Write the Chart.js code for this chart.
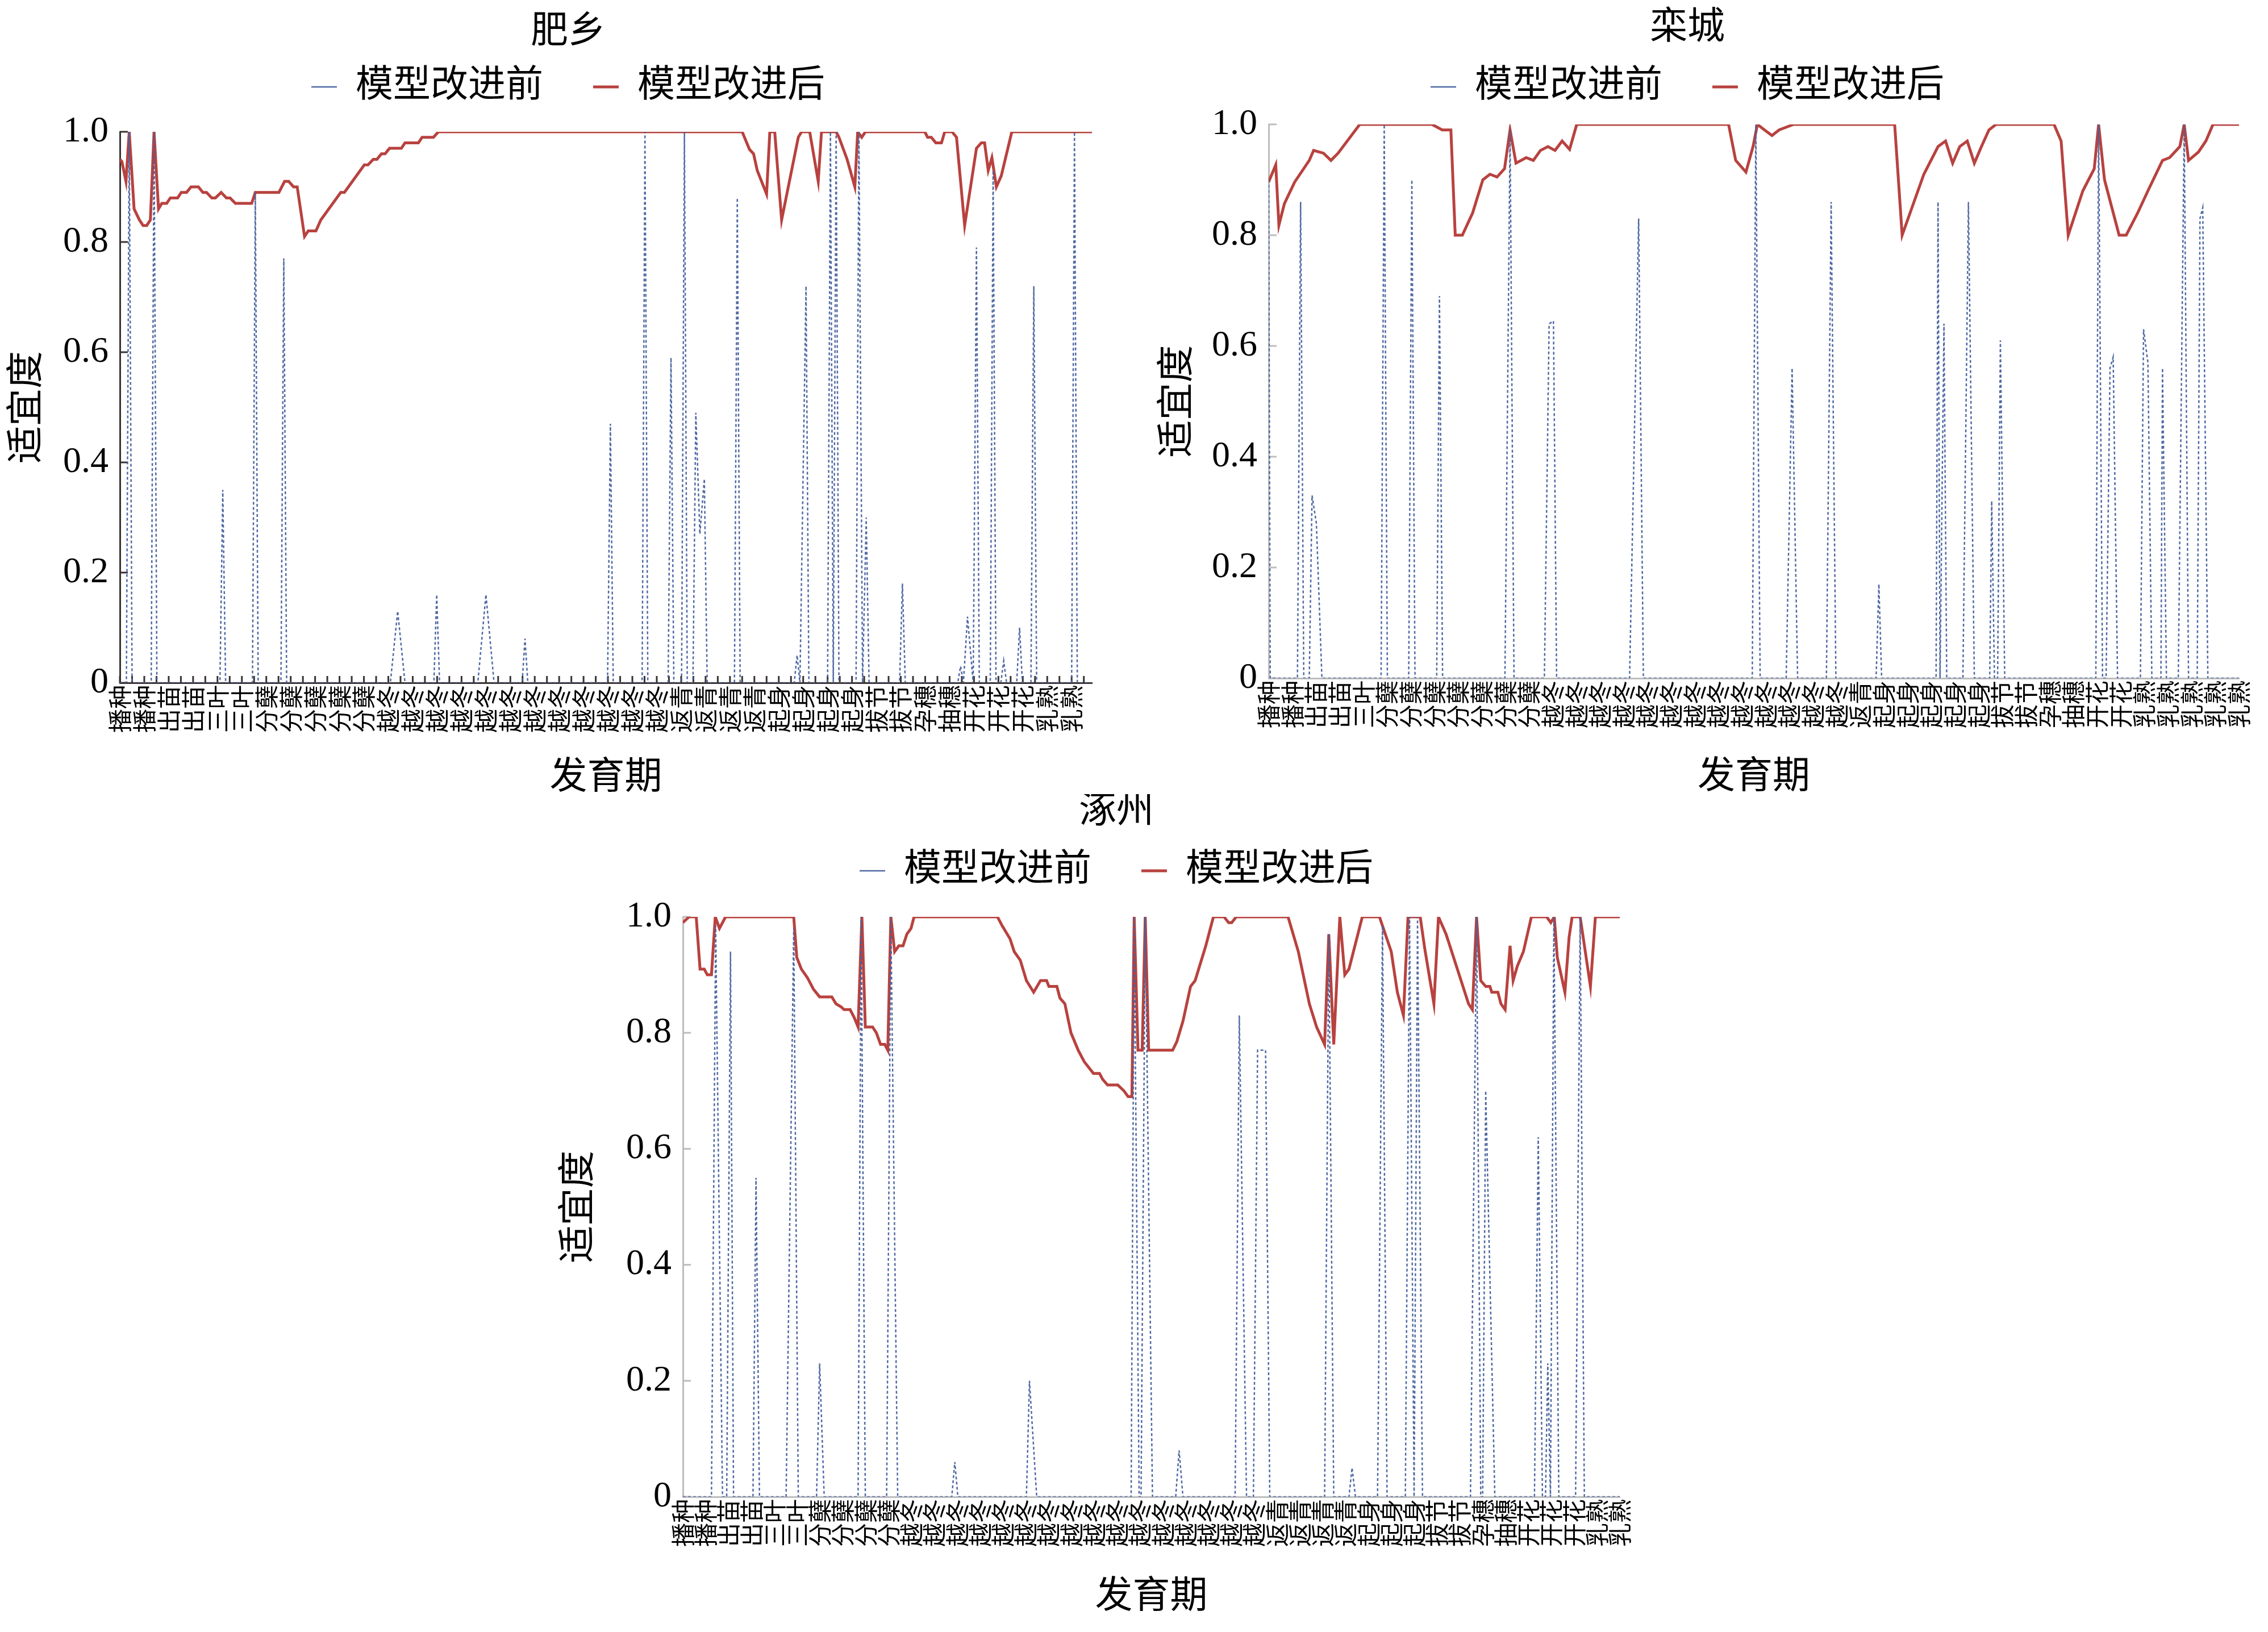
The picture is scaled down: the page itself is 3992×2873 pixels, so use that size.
<!DOCTYPE html>
<html lang="zh">
<head>
<meta charset="UTF-8">
<title>模型改进前后适宜度</title>
<script src="https://cdn.jsdelivr.net/npm/chart.js@4.4.1/dist/chart.umd.min.js"></script>
<style>
  html, body { margin: 0; padding: 0; background: #fff; }
  body { width: 3992px; height: 2873px; position: relative; overflow: hidden; }
  canvas { position: absolute; }
</style>
</head>
<body>
<canvas id="feixiang"></canvas>
<canvas id="luancheng"></canvas>
<canvas id="zhuozhou"></canvas>
<script>
// one label every 6 days on the x axis
const labelStep = 6;

// ---------- 肥乡 ----------
const feixiangLabels = ['播种','播种','出苗','出苗','三叶','三叶','分蘖','分蘖','分蘖','分蘖','分蘖',
  '越冬','越冬','越冬','越冬','越冬','越冬','越冬','越冬','越冬','越冬','越冬','越冬',
  '返青','返青','返青','返青','起身','起身','起身','起身','拔节','拔节','孕穗','抽穗',
  '开花','开花','开花','乳熟','乳熟'];
const feixiangLastDay = 239;
const feixiangBeforeDays = [0,1.6,2.3,3.0, 7.7,8.4,9.1, 24.6,25.3,26.0, 32.6,33.3,34.0, 39.6,40.3,41.0,
  66.5,68.3,70.1, 77.2,77.9,78.6, 88,90,92, 98.9,99.6,100.3, 119.9,120.6,121.3, 128.4,129.1,129.8,
  134.8,135.5,136.2, 138.1,138.8,139.5, 140.9,141.6,142.6,143.7,144.4, 151.1,151.8,152.5,
  165.8,166.5,167.2,168.7,169.4, 174.0,174.7,175.4,176.1,176.8, 181.0,181.7,182.6,183.5,184.2,
  191.7,192.4,193.1, 206.0,206.7,207.4,208.4,209.8,210.6,211.3, 214.0,214.7,215.4,
  216.6,217.3,218.0, 220.5,221.2,221.9, 224.0,224.7,225.4, 234.0,234.7,235.4, 239];
const feixiangBeforeValues = [0,0,1,0, 0,1,0, 0,0.35,0, 0,0.89,0, 0,0.77,0,
  0,0.13,0, 0,0.16,0, 0,0.16,0, 0,0.08,0, 0,0.47,0, 0,1,0,
  0,0.59,0, 0,1,0, 0,0.49,0.27,0.37,0, 0,0.88,0,
  0,0.05,0,0.72,0, 0,1,0,1,0, 0,1,0,0.30,0,
  0,0.18,0, 0,0.03,0,0.12,0,0.79,0, 0,0.93,0,
  0,0.04,0, 0,0.10,0, 0,0.72,0, 0,1,0, 0];
const feixiangAfterDays = [0,0.5,1.5,2.3,3.5,4.8,5.7,6.6,7.5,8.4,
  9.5,10.3,11.5,12.4,14.2,15.1,16.4,17.5,19.3,20.4,
  21.3,22.6,23.5,24.9,26.2,27.1,28.4,32.4,33.3,39.1,
  40.5,41.5,42.7,43.6,45.4,46.3,48.2,49.4,54.3,55.2,
  60.1,61.0,62.3,63.2,64.3,65.2,66.3,69.2,70.1,73.4,
  74.3,77.1,78.3,153.0,154.8,155.8,156.7,159.0,159.8,161.0,
  162.7,166.8,167.6,169.6,171.7,172.5,176.1,176.8,178.8,180.7,
  181.4,182.4,183.3,197.9,198.6,199.5,200.6,202.0,202.8,204.6,
  205.7,207.7,210.6,211.8,212.6,213.5,214.4,215.5,216.7,219.3,
  239];
const feixiangAfterValues = [0.95,0.946,0.91,1,0.86,0.84,0.83,0.83,0.84,1,
  0.86,0.87,0.87,0.88,0.88,0.89,0.89,0.90,0.90,0.89,
  0.89,0.88,0.88,0.89,0.88,0.88,0.87,0.87,0.89,0.89,
  0.91,0.91,0.90,0.90,0.81,0.82,0.82,0.84,0.89,0.89,
  0.94,0.94,0.95,0.95,0.96,0.96,0.97,0.97,0.98,0.98,
  0.99,0.99,1,1,0.968,0.96,0.93,0.887,1,1,
  0.84,0.99,1,1,0.91,1,1,0.99,0.95,0.90,
  1,0.99,1,1,0.99,0.99,0.98,0.98,1,1,
  0.99,0.83,0.97,0.98,0.98,0.93,0.953,0.90,0.92,1,
  1];

// ---------- 栾城 ----------
const luanchengLabels = ['播种','播种','出苗','出苗','三叶','分蘖','分蘖','分蘖','分蘖','分蘖','分蘖','分蘖',
  '越冬','越冬','越冬','越冬','越冬','越冬','越冬','越冬','越冬','越冬','越冬','越冬','越冬',
  '返青','起身','起身','起身','起身','起身','拔节','拔节','孕穗','抽穗','开花','开花',
  '乳熟','乳熟','乳熟','乳熟','乳熟'];
const luanchengLastDay = 246;
const luanchengBeforeDays = [0,0.4, 7.3,8.1,8.9, 10.3,11.0,12.1,13.5, 28.5,29.3,30.1, 35.5,36.3,37.1,
  42.6,43.3,44.1, 59.9,61.2,62.2, 69.9,71.1,72.2,73.0, 91.5,93.8,95.0, 122.6,123.5,124.6,
  131.2,132.7,134.1, 141.4,142.6,143.8, 154.0,154.7,155.4, 169.2,169.7,170.2,171.2,171.9,
  176.0,177.4,178.9, 182.8,183.3,184.0,184.8,185.5,186.6, 209.7,210.4,211.4,
  212.3,213.3,214.1,215.2, 221.0,221.8,222.9,223.9, 226.2,226.6,227.6, 230.6,232.1,233.2,
  235.4,236.1,236.8,238.1, 246];
const luanchengBeforeValues = [0.9,0, 0,0.86,0, 0,0.33,0.28,0, 0,1,0, 0,0.9,0,
  0,0.69,0, 0,0.99,0, 0,0.64,0.645,0, 0,0.83,0, 0,1,0,
  0,0.56,0, 0,0.86,0, 0,0.17,0, 0,0.86,0,0.64,0,
  0,0.86,0, 0,0.32,0,0,0.61,0, 0,1,0,
  0,0.56,0.58,0, 0,0.63,0.57,0, 0,0.56,0, 0,1,0,
  0,0.83,0.85,0, 0];
const luanchengAfterDays = [0,1.8,2.6,4.0,6.6,10.3,11.4,13.9,15.8,17.6,
  23.1,41.4,44.0,46.2,47.3,49.1,51.7,54.3,56.1,57.9,
  59.8,61.2,62.7,65.3,67.1,68.9,70.8,72.6,74.4,76.3,
  78.1,116.6,118.4,121.0,122.8,123.9,125.7,127.6,129.4,133.1,
  158.7,160.6,163.1,166.1,169.7,171.6,173.4,175.2,177.1,178.9,
  180.7,182.6,184.4,199.1,200.9,202.7,206.4,209.3,210.4,211.9,
  215.6,217.4,220.3,222.9,226.6,228.4,231.0,232.1,233.2,235.7,
  237.6,239.4,246];
const luanchengAfterValues = [0.896,0.927,0.818,0.857,0.896,0.935,0.953,0.948,0.935,0.948,
  1,1,0.99,0.99,0.80,0.80,0.84,0.90,0.91,0.905,
  0.92,0.99,0.93,0.94,0.935,0.953,0.96,0.953,0.97,0.955,
  1,1,0.935,0.914,0.96,1,0.99,0.98,0.99,1,
  1,0.80,0.85,0.91,0.96,0.97,0.93,0.96,0.97,0.93,
  0.96,0.99,1,1,0.97,0.80,0.88,0.92,1,0.90,
  0.80,0.80,0.84,0.88,0.935,0.94,0.96,1,0.935,0.95,
  0.97,1,1];

// ---------- 涿州 ----------
const zhuozhouLabels = ['播种','播种','出苗','出苗','三叶','三叶','分蘖','分蘖','分蘖','分蘖',
  '越冬','越冬','越冬','越冬','越冬','越冬','越冬','越冬','越冬','越冬','越冬','越冬','越冬','越冬','越冬','越冬',
  '返青','返青','返青','返青','起身','起身','起身','拔节','拔节','孕穗','抽穗',
  '开花','开花','开花','乳熟','乳熟'];
const zhuozhouLastDay = 246;
const zhuozhouBeforeDays = [0, 7.5,8.6,10.4, 11.5,12.5,13.3, 18.4,19.2,20.1, 27.1,29.1,30.3,
  35.1,35.9,37.1, 46.0,46.8,47.9, 53.5,54.6,56.4, 70.6,71.4,72.2, 90.2,91.0,92.9,
  117.7,118.5,119.8, 120.3,121.4,123.3, 129.4,130.3,131.3, 145.0,146.1,148.0,
  149.8,150.9,153.0,154.1, 168.5,169.6,170.9, 174.9,175.7,176.6, 182.4,183.7,184.9,
  189.7,190.8,192.0,192.9,194.2, 206.8,208.4,209.5, 210.0,210.8,213.2, 223.6,224.6,225.7,
  226.5,227.1,227.8,228.7,230.0, 234.4,235.6,236.7, 246];
const zhuozhouBeforeValues = [0, 0,0.985,0, 0,0.94,0, 0,0.55,0, 0,0.98,0,
  0,0.23,0, 0,1,0, 0,1,0, 0,0.06,0, 0,0.20,0,
  0,1,0, 0,1,0, 0,0.08,0, 0,0.83,0,
  0,0.77,0.77,0, 0,0.97,0, 0,0.05,0, 0,0.985,0,
  0,1,0,1,0, 0,1,0, 0,0.70,0, 0,0.62,0,
  0,0.23,0,1,0, 0,1,0, 0];
const zhuozhouAfterDays = [0,1.6,3.5,4.5,5.6,6.4,7.5,8.5,9.6,11.2,
  29.1,29.9,31.1,32.7,34.3,35.9,39.1,40.2,41.5,42.3,
  43.9,45.0,46.0,47.0,47.9,49.8,50.8,51.9,53.0,53.8,
  54.6,55.6,56.7,57.8,58.8,59.9,60.7,82.6,83.8,85.9,
  87.0,88.6,90.2,92.1,93.9,95.5,96.1,98.2,99.0,100.3,
  101.9,103.8,105.4,107.8,109.4,110.2,111.5,114.2,115.8,116.9,
  117.9,118.5,119.5,120.6,121.4,122.3,128.6,129.7,131.3,133.3,
  134.5,137.3,139.3,142.1,143.3,144.1,145.3,158.9,161.6,164.5,
  166.4,168.5,169.6,170.9,172.5,173.8,174.9,178.4,182.9,186.0,
  187.6,189.2,190.4,193.6,194.8,197.2,198.4,200.4,203.6,206.3,
  207.3,208.4,209.5,210.8,211.9,212.4,214.0,214.8,215.9,217.2,
  218.0,219.1,220.7,222.8,226.8,227.9,228.8,229.6,231.6,232.7,
  233.5,235.6,238.3,239.6,246];
const zhuozhouAfterValues = [0.99,1,1,0.91,0.91,0.90,0.90,1,0.98,1,
  1,0.93,0.91,0.895,0.875,0.862,0.862,0.85,0.845,0.84,
  0.84,0.826,0.81,1,0.81,0.81,0.80,0.78,0.78,0.77,
  1,0.94,0.95,0.95,0.97,0.98,1,1,0.985,0.962,
  0.94,0.925,0.89,0.87,0.89,0.89,0.88,0.88,0.86,0.85,
  0.80,0.77,0.75,0.73,0.73,0.72,0.71,0.71,0.70,0.69,
  0.69,1,0.77,0.77,1,0.77,0.77,0.785,0.82,0.88,
  0.89,0.95,1,1,0.99,0.99,1,1,0.94,0.85,
  0.81,0.78,0.97,0.78,1,0.90,0.91,1,1,0.94,
  0.87,0.83,1,1,0.945,0.85,1,0.97,0.905,0.85,
  0.84,1,0.89,0.88,0.88,0.87,0.87,0.85,0.84,0.95,
  0.89,0.915,0.94,1,1,0.99,1,0.93,0.87,0.965,
  1,1,0.88,1,1];

// ---------- styling ----------
const BLUE = 'rgba(72, 98, 158, 0.95)';
const RED = '#b8423f';
Chart.defaults.font.family = "'Liberation Serif', 'Noto Sans CJK SC', serif";
Chart.defaults.color = '#000';

// placement of each chart on the page (pixels)
const layouts = {
  feixiang:  { left: 0,    top: 0,    width: 2000, height: 1420, titleTop: 25, titleBottom: -59, gapTop: 36,
               yWidth: 211, yTitlePad: 17, rightPad: 78,  xHeight: 218, xTitlePad: 16, axisColor: '#3a3232', xTicks: true },
  luancheng: { left: 1969, top: 0,    width: 2002, height: 1420, titleTop: 18, titleBottom: -52, gapTop: 23,
               yWidth: 264, yTitlePad: 73, rightPad: 30,  xHeight: 226, xTitlePad: 17, axisColor: '#bdbdbd', xTicks: false },
  zhuozhou:  { left: 960,  top: 1398, width: 2010, height: 1475, titleTop: 0,  titleBottom: -52, gapTop: 38,
               yWidth: 242, yTitlePad: 28, rightPad: 119, xHeight: 238, xTitlePad: 27, axisColor: '#bdbdbd', xTicks: false }
};

// short tick marks drawn inside the plot, like the original
const innerTicks = {
  id: 'innerTicks',
  beforeDatasetsDraw(chart, args, opts) {
    const { ctx, chartArea, scales } = chart;
    ctx.save();
    ctx.strokeStyle = opts.color;
    ctx.lineWidth = 3;
    scales.y.ticks.forEach(t => {
      const y = scales.y.getPixelForValue(t.value);
      ctx.beginPath();
      ctx.moveTo(chartArea.left, y);
      ctx.lineTo(chartArea.left + opts.yLen, y);
      ctx.stroke();
    });
    if (opts.xStep) {
      for (let v = 0; v <= scales.x.max; v += opts.xStep) {
        const x = scales.x.getPixelForValue(v);
        ctx.beginPath();
        ctx.moveTo(x, chartArea.bottom);
        ctx.lineTo(x, chartArea.bottom - opts.xLen);
        ctx.stroke();
      }
    }
    ctx.restore();
  }
};

function toPoints(days, values) {
  return days.map((d, i) => ({ x: d, y: values[i] }));
}

function drawChart(id, title, labels, lastDay, beforeDays, beforeValues, afterDays, afterValues) {
  const lay = layouts[id];
  const canvas = document.getElementById(id);
  canvas.width = lay.width;
  canvas.height = lay.height;
  canvas.style.left = lay.left + 'px';
  canvas.style.top = lay.top + 'px';
  canvas.style.width = lay.width + 'px';
  canvas.style.height = lay.height + 'px';

  new Chart(canvas, {
    type: 'line',
    data: {
      datasets: [
        {
          label: '模型改进前',
          data: toPoints(beforeDays, beforeValues),
          borderColor: BLUE,
          backgroundColor: BLUE,
          borderWidth: 2.5,
          borderDash: [5, 4],
          pointRadius: 0,
          fill: false,
          tension: 0,
          xAxisID: 'x',
          yAxisID: 'y'
        },
        {
          label: '模型改进后',
          data: toPoints(afterDays, afterValues),
          borderColor: RED,
          backgroundColor: RED,
          borderWidth: 5,
          pointRadius: 0,
          fill: false,
          tension: 0,
          xAxisID: 'x',
          yAxisID: 'y'
        }
      ]
    },
    options: {
      responsive: false,
      animation: false,
      devicePixelRatio: 1,
      layout: { padding: 0 },
      plugins: {
        title: {
          display: true,
          text: title,
          color: '#000',
          font: { size: 66, weight: 'normal', lineHeight: 1 },
          padding: { top: lay.titleTop, bottom: lay.titleBottom }
        },
        legend: {
          display: true,
          position: 'top',
          labels: {
            usePointStyle: true,
            pointStyle: 'line',
            pointStyleWidth: 45,
            padding: 88,
            color: '#000',
            font: { size: 66 }
          }
        },
        tooltip: { enabled: false },
        innerTicks: { color: lay.axisColor, yLen: 14, xStep: lay.xTicks ? 3 : 0, xLen: 12 }
      },
      scales: {
        x: {
          type: 'linear',
          position: 'bottom',
          min: 0,
          max: lastDay,
          afterBuildTicks: s => { s.ticks = labels.map((_, i) => ({ value: i * labelStep })); },
          afterFit: s => { s.height = lay.xHeight; s.paddingLeft = 0; s.paddingRight = 0; },
          grid: { display: false, drawTicks: false },
          border: { display: true, color: lay.axisColor, width: 3 },
          ticks: {
            autoSkip: false,
            minRotation: 90,
            maxRotation: 90,
            padding: 4,
            color: '#000',
            font: { size: 42, family: "'Noto Sans CJK SC', sans-serif" },
            callback: (v, i) => labels[i]
          },
          title: {
            display: true,
            text: '发育期',
            color: '#000',
            font: { size: 66, lineHeight: 1 },
            padding: { top: 0, bottom: lay.xTitlePad }
          }
        },
        y: {
          type: 'linear',
          position: 'left',
          min: 0,
          max: 1,
          afterFit: s => { s.width = lay.yWidth; },
          grid: { display: false, drawTicks: false },
          border: { display: true, color: lay.axisColor, width: 3 },
          ticks: {
            stepSize: 0.2,
            padding: 20,
            color: '#000',
            font: { size: 64 },
            callback: v => (v === 0 ? '0' : v.toFixed(1))
          },
          title: {
            display: true,
            text: '适宜度',
            color: '#000',
            font: { size: 66, lineHeight: 1 },
            padding: { top: lay.yTitlePad, bottom: 0 }
          }
        },
        // empty boxes used only to place the chart area inside the canvas
        gapTop: {
          type: 'linear',
          position: 'top',
          display: true,
          grid: { display: false, drawTicks: false },
          border: { display: false },
          ticks: { display: false },
          afterFit: s => { s.height = lay.gapTop; }
        },
        gapRight: {
          type: 'linear',
          position: 'right',
          display: lay.rightPad > 0,
          grid: { display: false, drawTicks: false },
          border: { display: false },
          ticks: { display: false },
          afterFit: s => { s.width = lay.rightPad; }
        }
      }
    },
    plugins: [innerTicks]
  });
}

drawChart('feixiang', '肥乡', feixiangLabels, feixiangLastDay,
  feixiangBeforeDays, feixiangBeforeValues, feixiangAfterDays, feixiangAfterValues);
drawChart('luancheng', '栾城', luanchengLabels, luanchengLastDay,
  luanchengBeforeDays, luanchengBeforeValues, luanchengAfterDays, luanchengAfterValues);
drawChart('zhuozhou', '涿州', zhuozhouLabels, zhuozhouLastDay,
  zhuozhouBeforeDays, zhuozhouBeforeValues, zhuozhouAfterDays, zhuozhouAfterValues);
</script>
</body>
</html>
